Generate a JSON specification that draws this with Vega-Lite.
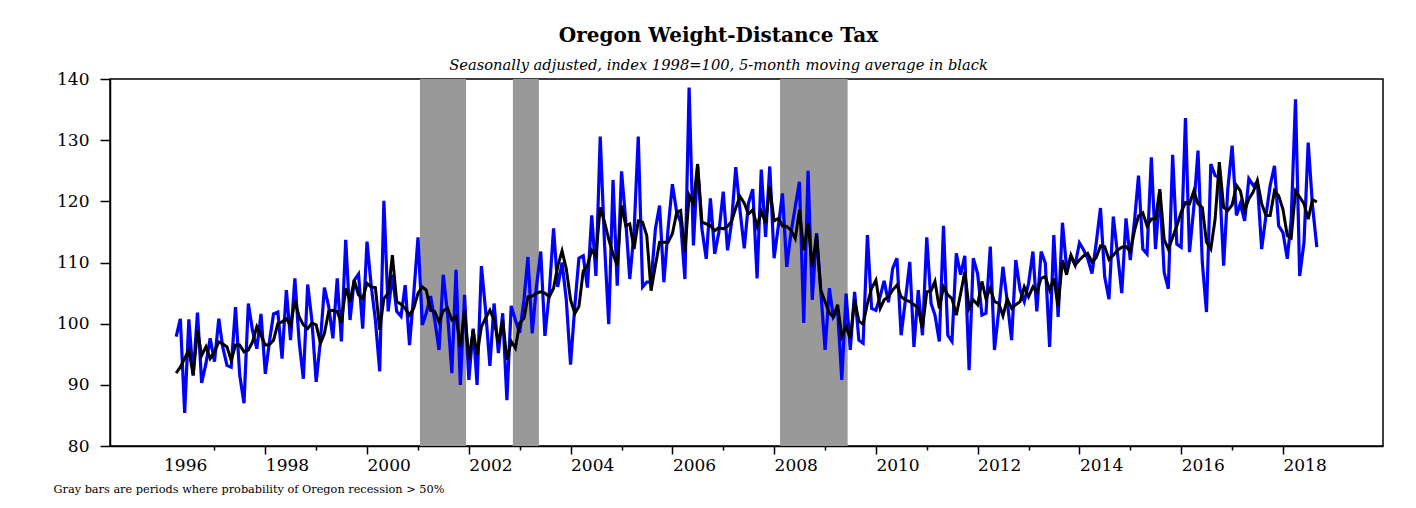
{
  "$schema": "https://vega.github.io/schema/vega-lite/v6.json",
  "width": 1273,
  "height": 367,
  "autosize": {"type": "none"},
  "padding": {"left": 110, "top": 79, "right": 33, "bottom": 62},
  "background": "white",
  "title": {
    "text": "Oregon Weight-Distance Tax",
    "subtitle": "Seasonally adjusted, index 1998=100, 5-month moving average in black",
    "font": "DejaVu Serif", "fontSize": 20, "fontWeight": "bold", "color": "black",
    "subtitleFont": "DejaVu Serif", "subtitleFontSize": 14.7, "subtitleFontStyle": "italic", "subtitleColor": "black",
    "anchor": "middle", "frame": "group", "dx": -28, "offset": -3, "subtitlePadding": 12
  },
  "config": {
    "view": {"stroke": "black", "strokeWidth": 1.5},
    "font": "DejaVu Serif"
  },
  "datasets": {
    "rec": [
      {"s": "2001-01-15", "e": "2001-12-12"},
      {"s": "2002-11-13", "e": "2003-05-19"},
      {"s": "2008-02-13", "e": "2009-06-12"}
    ],
    "tax": [
      {"t":"1996-04","b":97.9,"k":91.9},{"t":"1996-05","b":100.8,"k":92.9},{"t":"1996-06","b":85.4,"k":94.3},{"t":"1996-07","b":100.7,"k":95.7},{"t":"1996-08","b":91.5,"k":91.6},{"t":"1996-09","b":101.8,"k":98.9},{"t":"1996-10","b":90.3,"k":94.8},{"t":"1996-11","b":93.5,"k":96.2},{"t":"1996-12","b":97.6,"k":94.3},
      {"t":"1997-01","b":93.8,"k":95.4},{"t":"1997-02","b":100.8,"k":97.0},{"t":"1997-03","b":96.2,"k":96.7},{"t":"1997-04","b":93.2,"k":96.2},{"t":"1997-05","b":92.9,"k":94.0},{"t":"1997-06","b":102.7,"k":96.5},{"t":"1997-07","b":91.6,"k":96.5},{"t":"1997-08","b":87.0,"k":95.4},{"t":"1997-09","b":103.3,"k":95.7},{"t":"1997-10","b":98.9,"k":97.0},{"t":"1997-11","b":95.9,"k":99.5},{"t":"1997-12","b":101.6,"k":98.1},
      {"t":"1998-01","b":91.8,"k":96.5},{"t":"1998-02","b":97.3,"k":96.6},{"t":"1998-03","b":101.6,"k":97.3},{"t":"1998-04","b":101.9,"k":100.0},{"t":"1998-05","b":94.3,"k":100.3},{"t":"1998-06","b":105.5,"k":100.8},{"t":"1998-07","b":97.3,"k":99.7},{"t":"1998-08","b":107.4,"k":103.8},{"t":"1998-09","b":97.0,"k":101.1},{"t":"1998-10","b":91.0,"k":99.8},{"t":"1998-11","b":106.4,"k":99.2},{"t":"1998-12","b":100.6,"k":100.1},
      {"t":"1999-01","b":90.5,"k":99.8},{"t":"1999-02","b":97.3,"k":96.8},{"t":"1999-03","b":105.9,"k":98.4},{"t":"1999-04","b":102.8,"k":102.0},{"t":"1999-05","b":97.6,"k":102.2},{"t":"1999-06","b":107.4,"k":102.0},{"t":"1999-07","b":97.1,"k":100.1},{"t":"1999-08","b":113.7,"k":105.8},{"t":"1999-09","b":100.6,"k":103.6},{"t":"1999-10","b":107.1,"k":107.1},{"t":"1999-11","b":108.1,"k":104.7},{"t":"1999-12","b":99.2,"k":104.1},
      {"t":"2000-01","b":113.4,"k":106.6},{"t":"2000-02","b":106.0,"k":106.0},{"t":"2000-03","b":100.6,"k":105.9},{"t":"2000-04","b":92.2,"k":99.0},{"t":"2000-05","b":120.1,"k":104.1},{"t":"2000-06","b":102.0,"k":105.0},{"t":"2000-07","b":108.0,"k":111.2},{"t":"2000-08","b":102.0,"k":103.6},{"t":"2000-09","b":101.2,"k":103.2},{"t":"2000-10","b":106.3,"k":102.5},{"t":"2000-11","b":96.5,"k":101.4},{"t":"2000-12","b":104.7,"k":102.5},
      {"t":"2001-01","b":114.1,"k":105.0},{"t":"2001-02","b":99.8,"k":106.0},{"t":"2001-03","b":101.7,"k":105.5},{"t":"2001-04","b":104.5,"k":102.2},{"t":"2001-05","b":100.6,"k":102.0},{"t":"2001-06","b":95.7,"k":100.3},{"t":"2001-07","b":108.0,"k":102.1},{"t":"2001-08","b":101.7,"k":102.5},{"t":"2001-09","b":91.9,"k":100.6},{"t":"2001-10","b":108.8,"k":101.2},{"t":"2001-11","b":90.0,"k":96.2},{"t":"2001-12","b":104.7,"k":102.2},
      {"t":"2002-01","b":90.8,"k":94.1},{"t":"2002-02","b":99.2,"k":99.0},{"t":"2002-03","b":90.0,"k":94.9},{"t":"2002-04","b":109.4,"k":99.5},{"t":"2002-05","b":102.2,"k":100.9},{"t":"2002-06","b":93.1,"k":102.2},{"t":"2002-07","b":103.3,"k":100.6},{"t":"2002-08","b":95.2,"k":96.8},{"t":"2002-09","b":101.7,"k":100.6},{"t":"2002-10","b":87.5,"k":94.1},{"t":"2002-11","b":102.9,"k":97.1},{"t":"2002-12","b":100.6,"k":96.0},
      {"t":"2003-01","b":98.5,"k":100.1},{"t":"2003-02","b":104.0,"k":100.9},{"t":"2003-03","b":110.9,"k":104.4},{"t":"2003-04","b":98.4,"k":104.5},{"t":"2003-05","b":106.0,"k":105.0},{"t":"2003-06","b":111.8,"k":105.2},{"t":"2003-07","b":98.0,"k":105.0},{"t":"2003-08","b":105.0,"k":104.4},{"t":"2003-09","b":115.6,"k":105.8},{"t":"2003-10","b":106.0,"k":109.4},{"t":"2003-11","b":110.0,"k":111.9},{"t":"2003-12","b":104.0,"k":109.0},
      {"t":"2004-01","b":93.3,"k":103.9},{"t":"2004-02","b":103.0,"k":101.7},{"t":"2004-03","b":110.7,"k":102.8},{"t":"2004-04","b":111.1,"k":108.6},{"t":"2004-05","b":105.9,"k":109.5},{"t":"2004-06","b":117.7,"k":112.0},{"t":"2004-07","b":107.8,"k":111.1},{"t":"2004-08","b":130.6,"k":119.0},{"t":"2004-09","b":113.0,"k":116.6},{"t":"2004-10","b":99.9,"k":113.8},{"t":"2004-11","b":123.5,"k":111.4},{"t":"2004-12","b":106.2,"k":109.5},
      {"t":"2005-01","b":124.9,"k":119.3},{"t":"2005-02","b":116.6,"k":116.0},{"t":"2005-03","b":107.3,"k":116.3},{"t":"2005-04","b":115.0,"k":112.2},{"t":"2005-05","b":130.6,"k":116.8},{"t":"2005-06","b":106.0,"k":116.6},{"t":"2005-07","b":106.8,"k":114.4},{"t":"2005-08","b":106.8,"k":105.4},{"t":"2005-09","b":115.5,"k":109.5},{"t":"2005-10","b":119.3,"k":113.3},{"t":"2005-11","b":106.8,"k":113.3},{"t":"2005-12","b":115.5,"k":113.3},
      {"t":"2006-01","b":122.8,"k":114.7},{"t":"2006-02","b":118.2,"k":118.2},{"t":"2006-03","b":116.6,"k":118.5},{"t":"2006-04","b":107.3,"k":111.7},{"t":"2006-05","b":138.6,"k":121.0},{"t":"2006-06","b":112.8,"k":119.6},{"t":"2006-07","b":125.8,"k":126.1},{"t":"2006-08","b":115.5,"k":116.6},{"t":"2006-09","b":110.6,"k":116.3},{"t":"2006-10","b":120.5,"k":116.0},{"t":"2006-11","b":111.4,"k":115.2},{"t":"2006-12","b":115.0,"k":115.7},
      {"t":"2007-01","b":121.6,"k":115.5},{"t":"2007-02","b":112.0,"k":115.9},{"t":"2007-03","b":116.4,"k":116.7},{"t":"2007-04","b":125.6,"k":118.9},{"t":"2007-05","b":118.6,"k":120.8},{"t":"2007-06","b":112.3,"k":119.7},{"t":"2007-07","b":119.7,"k":117.9},{"t":"2007-08","b":122.0,"k":118.6},{"t":"2007-09","b":107.4,"k":115.9},{"t":"2007-10","b":125.2,"k":118.3},{"t":"2007-11","b":114.2,"k":116.5},{"t":"2007-12","b":125.7,"k":122.4},
      {"t":"2008-01","b":110.7,"k":116.8},{"t":"2008-02","b":116.0,"k":117.2},{"t":"2008-03","b":121.3,"k":116.0},{"t":"2008-04","b":109.3,"k":115.9},{"t":"2008-05","b":114.8,"k":115.3},{"t":"2008-06","b":119.1,"k":113.9},{"t":"2008-07","b":123.2,"k":118.6},{"t":"2008-08","b":100.1,"k":112.0},{"t":"2008-09","b":125.0,"k":116.4},{"t":"2008-10","b":103.9,"k":109.3},{"t":"2008-11","b":114.8,"k":114.5},{"t":"2008-12","b":105.5,"k":105.5},
      {"t":"2009-01","b":95.7,"k":103.6},{"t":"2009-02","b":105.8,"k":101.7},{"t":"2009-03","b":101.1,"k":101.1},{"t":"2009-04","b":102.2,"k":103.1},{"t":"2009-05","b":90.8,"k":97.9},{"t":"2009-06","b":104.9,"k":99.5},{"t":"2009-07","b":95.7,"k":97.6},{"t":"2009-08","b":105.2,"k":103.9},{"t":"2009-09","b":97.3,"k":100.4},{"t":"2009-10","b":96.8,"k":99.9},{"t":"2009-11","b":114.5,"k":103.3},{"t":"2009-12","b":102.5,"k":105.8},
      {"t":"2010-01","b":102.2,"k":107.1},{"t":"2010-02","b":104.5,"k":102.5},{"t":"2010-03","b":107.0,"k":103.9},{"t":"2010-04","b":103.5,"k":104.4},{"t":"2010-05","b":109.0,"k":105.5},{"t":"2010-06","b":110.7,"k":106.3},{"t":"2010-07","b":98.1,"k":104.4},{"t":"2010-08","b":103.9,"k":103.9},{"t":"2010-09","b":110.1,"k":103.6},{"t":"2010-10","b":96.2,"k":103.1},{"t":"2010-11","b":105.5,"k":102.5},{"t":"2010-12","b":98.1,"k":99.2},
      {"t":"2011-01","b":114.1,"k":105.2},{"t":"2011-02","b":103.3,"k":105.4},{"t":"2011-03","b":101.4,"k":106.9},{"t":"2011-04","b":97.1,"k":102.5},{"t":"2011-05","b":116.0,"k":106.0},{"t":"2011-06","b":98.1,"k":104.7},{"t":"2011-07","b":97.1,"k":104.1},{"t":"2011-08","b":111.5,"k":101.4},{"t":"2011-09","b":108.0,"k":104.9},{"t":"2011-10","b":111.1,"k":108.5},{"t":"2011-11","b":92.4,"k":102.5},{"t":"2011-12","b":110.7,"k":103.9},
      {"t":"2012-01","b":108.2,"k":103.1},{"t":"2012-02","b":101.4,"k":106.9},{"t":"2012-03","b":101.7,"k":104.1},{"t":"2012-04","b":112.6,"k":105.8},{"t":"2012-05","b":95.7,"k":103.6},{"t":"2012-06","b":102.2,"k":103.3},{"t":"2012-07","b":109.3,"k":101.3},{"t":"2012-08","b":103.6,"k":104.0},{"t":"2012-09","b":97.3,"k":102.5},{"t":"2012-10","b":110.4,"k":103.1},{"t":"2012-11","b":105.5,"k":103.6},{"t":"2012-12","b":103.6,"k":106.0},
      {"t":"2013-01","b":106.6,"k":104.4},{"t":"2013-02","b":111.8,"k":106.0},{"t":"2013-03","b":102.0,"k":105.2},{"t":"2013-04","b":111.8,"k":107.4},{"t":"2013-05","b":109.9,"k":107.7},{"t":"2013-06","b":96.2,"k":105.5},{"t":"2013-07","b":114.5,"k":107.4},{"t":"2013-08","b":101.1,"k":102.8},{"t":"2013-09","b":116.5,"k":110.4},{"t":"2013-10","b":109.0,"k":108.0},{"t":"2013-11","b":111.0,"k":111.2},{"t":"2013-12","b":109.6,"k":109.6},
      {"t":"2014-01","b":113.2,"k":110.4},{"t":"2014-02","b":112.0,"k":111.1},{"t":"2014-03","b":110.7,"k":111.5},{"t":"2014-04","b":108.2,"k":110.1},{"t":"2014-05","b":113.1,"k":110.8},{"t":"2014-06","b":118.9,"k":112.7},{"t":"2014-07","b":107.7,"k":112.6},{"t":"2014-08","b":104.0,"k":110.5},{"t":"2014-09","b":117.5,"k":111.2},{"t":"2014-10","b":111.5,"k":112.0},{"t":"2014-11","b":105.0,"k":112.5},{"t":"2014-12","b":117.2,"k":112.6},
      {"t":"2015-01","b":110.4,"k":111.8},{"t":"2015-02","b":117.0,"k":115.3},{"t":"2015-03","b":124.2,"k":117.6},{"t":"2015-04","b":112.2,"k":118.1},{"t":"2015-05","b":111.4,"k":116.0},{"t":"2015-06","b":127.2,"k":117.1},{"t":"2015-07","b":112.2,"k":117.1},{"t":"2015-08","b":121.6,"k":122.0},{"t":"2015-09","b":108.4,"k":113.8},{"t":"2015-10","b":105.7,"k":112.2},{"t":"2015-11","b":127.6,"k":114.1},{"t":"2015-12","b":113.0,"k":116.0},
      {"t":"2016-01","b":112.5,"k":118.2},{"t":"2016-02","b":133.6,"k":119.8},{"t":"2016-03","b":111.7,"k":119.6},{"t":"2016-04","b":119.0,"k":121.7},{"t":"2016-05","b":128.3,"k":119.6},{"t":"2016-06","b":110.0,"k":119.0},{"t":"2016-07","b":101.9,"k":113.3},{"t":"2016-08","b":126.1,"k":112.2},{"t":"2016-09","b":124.2,"k":117.1},{"t":"2016-10","b":123.9,"k":126.4},{"t":"2016-11","b":109.5,"k":119.0},{"t":"2016-12","b":122.0,"k":118.5},
      {"t":"2017-01","b":129.1,"k":119.4},{"t":"2017-02","b":117.7,"k":122.6},{"t":"2017-03","b":119.6,"k":121.7},{"t":"2017-04","b":116.8,"k":118.5},{"t":"2017-05","b":123.7,"k":120.4},{"t":"2017-06","b":122.6,"k":121.5},{"t":"2017-07","b":123.1,"k":123.4},{"t":"2017-08","b":112.2,"k":119.6},{"t":"2017-09","b":117.7,"k":117.7},{"t":"2017-10","b":122.6,"k":117.7},{"t":"2017-11","b":125.8,"k":121.7},{"t":"2017-12","b":116.0,"k":120.9},
      {"t":"2018-01","b":114.9,"k":118.7},{"t":"2018-02","b":110.6,"k":114.4},{"t":"2018-03","b":117.0,"k":114.0},{"t":"2018-04","b":136.7,"k":121.7},{"t":"2018-05","b":107.8,"k":120.7},{"t":"2018-06","b":113.3,"k":119.6},{"t":"2018-07","b":129.6,"k":117.1},{"t":"2018-08","b":119.3,"k":120.3},{"t":"2018-09","b":112.5,"k":119.9}
    ]
  },
  "layer": [
    {
      "data": {"name": "rec"},
      "mark": {"type": "rect", "color": "#999999"},
      "encoding": {
        "x": {
          "field": "s", "type": "temporal",
          "scale": {"domain": [{"year": 1994, "month": 12, "date": 13}, {"year": 2019, "month": 12, "date": 20}]},
          "axis": {
            "values": [
              {"year": 1996, "month": 1, "date": 1}, {"year": 1997, "month": 1, "date": 1}, {"year": 1998, "month": 1, "date": 1},
              {"year": 1999, "month": 1, "date": 1}, {"year": 2000, "month": 1, "date": 1}, {"year": 2001, "month": 1, "date": 1},
              {"year": 2002, "month": 1, "date": 1}, {"year": 2003, "month": 1, "date": 1}, {"year": 2004, "month": 1, "date": 1},
              {"year": 2005, "month": 1, "date": 1}, {"year": 2006, "month": 1, "date": 1}, {"year": 2007, "month": 1, "date": 1},
              {"year": 2008, "month": 1, "date": 1}, {"year": 2009, "month": 1, "date": 1}, {"year": 2010, "month": 1, "date": 1},
              {"year": 2011, "month": 1, "date": 1}, {"year": 2012, "month": 1, "date": 1}, {"year": 2013, "month": 1, "date": 1},
              {"year": 2014, "month": 1, "date": 1}, {"year": 2015, "month": 1, "date": 1}, {"year": 2016, "month": 1, "date": 1},
              {"year": 2017, "month": 1, "date": 1}, {"year": 2018, "month": 1, "date": 1}
            ],
            "format": "%Y",
            "labelExpr": "year(datum.value) % 2 == 0 ? datum.label : ''",
            "labelAlign": "left",
            "labelBaseline": "top",
            "labelFont": "DejaVu Serif",
            "labelFontSize": 17,
            "labelColor": "black",
            "labelPadding": 3,
            "labelOverlap": false,
            "labelFlush": false,
            "labelBound": false,
            "tickSize": {"condition": {"test": "year(datum.value) % 2 == 1", "value": 4}, "value": 8},
            "tickOpacity": {"condition": {"test": "year(datum.value) == 1996", "value": 0}, "value": 1},
            "tickColor": "black",
            "tickWidth": 1.5,
            "domainColor": "black",
            "domainWidth": 1.5,
            "grid": false,
            "title": "Gray bars are periods where probability of Oregon recession > 50%",
            "titleFont": "DejaVu Serif",
            "titleFontSize": 11.3,
            "titleFontWeight": "normal",
            "titleColor": "black",
            "titleAnchor": "start",
            "titleAlign": "left",
            "titleBaseline": "middle",
            "titleX": -57,
            "titleY": 43
          }
        },
        "x2": {"field": "e"}
      }
    },
    {
      "data": {"name": "tax"},
      "mark": {"type": "line", "color": "#0000FF", "strokeWidth": 3.2},
      "encoding": {
        "x": {"field": "t", "type": "temporal"},
        "y": {
          "field": "b", "type": "quantitative",
          "scale": {"domain": [80, 140], "nice": false, "zero": false},
          "axis": {
            "values": [80, 90, 100, 110, 120, 130, 140],
            "tickSize": 10,
            "tickColor": "black",
            "tickWidth": 1.5,
            "labelPadding": 11,
            "labelFont": "DejaVu Serif",
            "labelFontSize": 17,
            "labelColor": "black",
            "domainColor": "black",
            "domainWidth": 1.5,
            "grid": false,
            "title": null
          }
        }
      }
    },
    {
      "data": {"name": "tax"},
      "mark": {"type": "line", "color": "#000000", "strokeWidth": 3},
      "encoding": {
        "x": {"field": "t", "type": "temporal"},
        "y": {"field": "k", "type": "quantitative"}
      }
    }
  ]
}
